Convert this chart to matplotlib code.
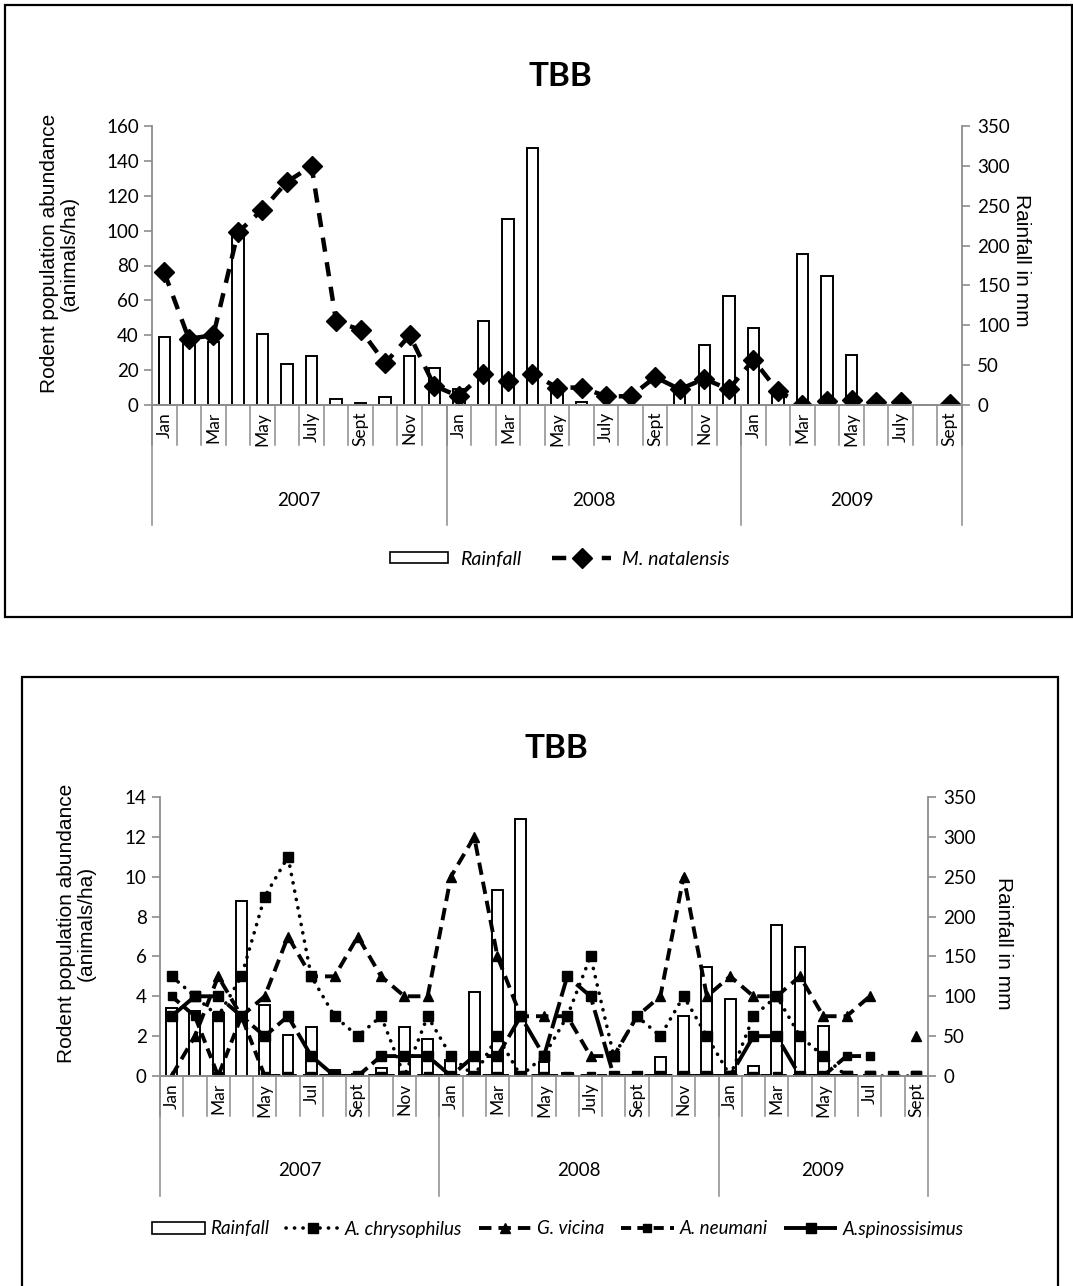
import numpy as np
import matplotlib.pyplot as plt
from matplotlib.patches import Rectangle, Patch
from matplotlib.lines import Line2D

nan = np.nan

# monthly rainfall (mm), Jan 2007 - Sept 2009
rainfall = [85, 82, 79, 219, 89, 51, 61, 7, 2, 10, 61, 47,
            20, 105, 233, 323, 18, 4, 0, 0, 0, 24, 75, 137,
            96, 12, 190, 162, 63, 0, 0, 0, 0]

# top panel: M. natalensis (animals/ha)
natalensis = [76, 38, 40, 99, 112, 128, 137, 48, 43, 24, 40, 11,
              5, 18, 14, 18, 10, 10, 5, 5, 16, 9, 15, 9,
              26, 8, 0, 2.5, 3, 2, 2, nan, 0.5]

# bottom panel: other species (animals/ha)
chrysophilus = [5, 4, 3, 5, 9, 11, 5, 3, 2, 3, 0, 3,
                1, 0, 2, 0, 1, 3, 6, 1, 3, 2, 4, 2,
                0, 3, 4, 2, 1, 0, 0, 0, 0]
vicina = [0, 2, 5, 3, 4, 7, 5, 5, 7, 5, 4, 4,
          10, 12, 6, 3, 3, 3, 1, 1, 3, 4, 10, 4,
          5, 4, 4, 5, 3, 3, 4, nan, 2]
neumani = [4, 3, 0, 3, 0, 0, 0, 0, 0, 0, 0, 0,
           0, 0, 0, 0, 0, 0, 0, 0, 0, 0, 0, 0,
           0, 0, 0, 0, 0, 1, 1, nan, 0]
spinossisimus = [3, 4, 4, 3, 2, 3, 1, 0, 0, 1, 1, 1,
                 0, 1, 1, 3, 1, 5, 4, 0, 0, 0, 0, 0,
                 0, 2, 2, 0, 0, 0, 0, nan, 0]

years = ['2007', '2008', '2009']
year_spans = [(0, 11), (12, 23), (24, 32)]

top_months = (['Jan', '', 'Mar', '', 'May', '', 'July', '', 'Sept', '', 'Nov', ''] * 2
              + ['Jan', '', 'Mar', '', 'May', '', 'July', '', 'Sept'])
bottom_months = (['Jan', '', 'Mar', '', 'May', '', 'Jul', '', 'Sept', '', 'Nov', '']
                 + ['Jan', '', 'Mar', '', 'May', '', 'July', '', 'Sept', '', 'Nov', '']
                 + ['Jan', '', 'Mar', '', 'May', '', 'Jul', '', 'Sept'])

W, H = 1073, 1286
GRAY = '#8c8c8c'
TICKFONT = 'Lato'
LABELFONT = 'Liberation Sans'

fig = plt.figure(figsize=(W / 100, H / 100), dpi=100)


def px_axes(left, top, right, bottom):
    return fig.add_axes([left / W, 1 - bottom / H, (right - left) / W, (bottom - top) / H])


def setup_panel(ax, ymax, ystep, months, ax_h):
    x = np.arange(len(rainfall))
    ax2 = ax.twinx()
    ax2.bar(x, rainfall, width=0.47, color='white', edgecolor='black', linewidth=1.4, zorder=1)
    ax2.set_ylim(0, 350)
    ax2.set_yticks(range(0, 351, 50))
    ax.set_zorder(ax2.get_zorder() + 1)
    ax.patch.set_visible(False)

    ax.set_xlim(-0.5, len(x) - 0.5)
    ax.set_ylim(0, ymax)
    ax.set_yticks(np.arange(0, ymax + 0.1, ystep))
    ax.set_xticks(x)
    ax.set_xticklabels(months, rotation=90, fontsize=12.5, family=TICKFONT)
    ax.tick_params(axis='x', length=0, pad=5)
    for a in (ax, ax2):
        a.spines['top'].set_visible(False)
        for s in ['left', 'right', 'bottom']:
            a.spines[s].set_color(GRAY)
            a.spines[s].set_linewidth(1.3)
        a.tick_params(axis='y', colors=GRAY, length=6, width=1.2, labelsize=13.5,
                      labelcolor='black', labelfontfamily=TICKFONT)
    ax2.spines['left'].set_visible(False)
    ax.spines['right'].set_visible(False)
    ax2.tick_params(axis='y', pad=5)

    # multi-level category axis
    tr = ax.get_xaxis_transform()
    short = 40 / ax_h
    longl = 120 / ax_h
    for b in np.arange(-0.5, len(x), 1.0):
        ax.plot([b, b], [0, -short], transform=tr, clip_on=False, color=GRAY, lw=1.1)
    for (s, e), yr in zip(year_spans, years):
        ax.plot([s - 0.5, s - 0.5], [0, -longl], transform=tr, clip_on=False, color=GRAY, lw=1.1)
        ax.text((s + e) / 2, -95 / ax_h, yr, transform=tr, ha='center', va='center',
                fontsize=13.5, family=TICKFONT)
    ax.plot([len(x) - 0.5] * 2, [0, -longl], transform=tr, clip_on=False, color=GRAY, lw=1.1)
    return ax2


# ---------- frames ----------
fig.add_artist(Rectangle((5 / W, 1 - 617 / H), 1067 / W, 612 / H, transform=fig.transFigure,
                         fill=False, edgecolor='black', lw=1.6))
fig.add_artist(Rectangle((22 / W, 1 - 1296 / H), 1036 / W, 619 / H, transform=fig.transFigure,
                         fill=False, edgecolor='black', lw=1.6))

# ---------- top panel ----------
ax = px_axes(152, 126, 962, 405)
setup_panel(ax, 160, 20, top_months, 279)
x = np.arange(len(rainfall))
ax.plot(x, natalensis, color='black', lw=3.2, linestyle=(0, (3.2, 2.4)),
        marker='D', markersize=10, markerfacecolor='black', markeredgecolor='black')

fig.text(560 / W, 1 - 76 / H, 'TBB', ha='center', va='center', fontsize=24,
         fontweight='bold', family=TICKFONT)
fig.text(59 / W, 1 - 253 / H, 'Rodent population abundance\n(animals/ha)', rotation=90,
         ha='center', va='center', multialignment='center', fontsize=15, family=LABELFONT,
         linespacing=1.05)
fig.text(1021 / W, 1 - 260 / H, 'Rainfall in mm', rotation=270, ha='center', va='center',
         fontsize=15, family=LABELFONT)

h_rain = Patch(facecolor='white', edgecolor='black', linewidth=1.2)
h_nat = Line2D([], [], color='black', lw=3.2, linestyle=(0, (3.2, 2.4)), marker='D',
               markersize=10)
fig.legend([h_rain, h_nat], ['Rainfall', 'M. natalensis'], loc='center',
           bbox_to_anchor=(560 / W, 1 - 559 / H), ncol=2, frameon=False,
           prop={'family': TICKFONT, 'style': 'italic', 'size': 14},
           handlelength=3.0, handleheight=0.55, columnspacing=1.6, handletextpad=0.6)

# ---------- bottom panel ----------
bx = px_axes(160, 797, 928, 1076)
setup_panel(bx, 14, 2, bottom_months, 279)

sty_chrys = dict(color='black', lw=2.6, linestyle=(0, (0.05, 2.3)), dash_capstyle='round',
                 marker='s', markersize=7)
sty_vic = dict(color='black', lw=2.8, linestyle=(0, (3.2, 1.8)), marker='^', markersize=7.5)
sty_neu = dict(color='black', lw=2.8, linestyle=(0, (2.6, 1.6)), marker='s', markersize=5.5)
sty_spin = dict(color='black', lw=2.8, linestyle=(0, (7, 1.5)), marker='s', markersize=6.5)

bx.plot(x, chrysophilus, **sty_chrys)
bx.plot(x, vicina, **sty_vic)
bx.plot(x, neumani, **sty_neu)
bx.plot(x, spinossisimus, **sty_spin)

fig.text(556 / W, 1 - 748 / H, 'TBB', ha='center', va='center', fontsize=24,
         fontweight='bold', family=TICKFONT)
fig.text(76 / W, 1 - 923 / H, 'Rodent population abundance\n(animals/ha)', rotation=90,
         ha='center', va='center', multialignment='center', fontsize=15, family=LABELFONT,
         linespacing=1.05)
fig.text(1004 / W, 1 - 943 / H, 'Rainfall in mm', rotation=270, ha='center', va='center',
         fontsize=15, family=LABELFONT)

handles = [Patch(facecolor='white', edgecolor='black', linewidth=1.2),
           Line2D([], [], **sty_chrys), Line2D([], [], **sty_vic),
           Line2D([], [], **sty_neu), Line2D([], [], **sty_spin)]
labels = ['Rainfall', 'A. chrysophilus', 'G. vicina', 'A. neumani', 'A.spinossisimus']
fig.legend(handles, labels, loc='center', bbox_to_anchor=(558 / W, 1 - 1229 / H), ncol=5,
           frameon=False, prop={'family': TICKFONT, 'style': 'italic', 'size': 13.5},
           handlelength=2.8, handleheight=0.55, columnspacing=0.9, handletextpad=0.3)

fig.savefig('out.png', dpi=100)
